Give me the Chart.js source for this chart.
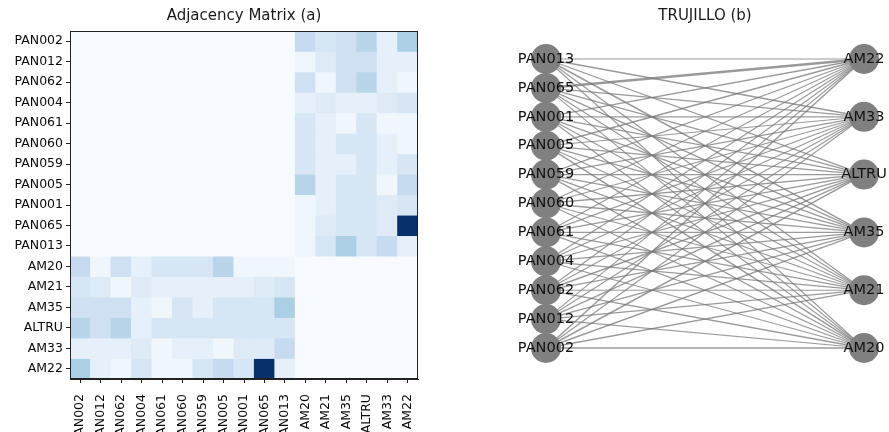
<!DOCTYPE html>
<html><head><meta charset="utf-8">
<script src="https://cdn.jsdelivr.net/npm/chart.js@4.4.1/dist/chart.umd.min.js"></script>
<style>
html,body{margin:0;padding:0;width:889px;height:432px;overflow:hidden;background:#fff;}
#c1{position:absolute;left:0;top:0;}
#c2{position:absolute;left:460px;top:0;}
</style></head><body>
<canvas id="c1" width="430" height="432"></canvas>
<canvas id="c2" width="429" height="432"></canvas>
<script>
// ---- data ----
const panNodes = ['PAN002','PAN012','PAN062','PAN004','PAN061','PAN060','PAN059','PAN005','PAN001','PAN065','PAN013'];
const amNodes = ['AM20','AM21','AM35','ALTRU','AM33','AM22'];
// edge weights: rows follow panNodes, columns follow amNodes
const weights = [
  [6, 4, 5, 7, 2, 8],   // PAN002
  [1, 3, 5, 5, 2, 2],   // PAN012
  [5, 1, 5, 7, 2, 1],   // PAN062
  [2, 3, 2, 2, 3, 4],   // PAN004
  [4, 2, 1, 4, 1, 1],   // PAN061
  [4, 2, 4, 4, 2, 1],   // PAN060
  [4, 2, 2, 4, 2, 4],   // PAN059
  [7, 2, 4, 4, 1, 6],   // PAN005
  [1, 2, 4, 4, 3, 4],   // PAN001
  [1, 3, 4, 4, 3, 24],  // PAN065
  [1, 4, 8, 4, 6, 2]    // PAN013
];
const titleA = 'Adjacency Matrix (a)';
const titleB = 'TRUJILLO (b)';

// ---- helpers ----
const FONT = "'DejaVu Sans', sans-serif";
const bluesStops = ['#f7fbff','#deebf7','#c6dbef','#9ecae1','#6baed6','#4292c6','#2171b5','#08519c','#08306b'];
function hex2rgb(h){return [parseInt(h.substr(1,2),16),parseInt(h.substr(3,2),16),parseInt(h.substr(5,2),16)];}
function blues(t){
  t = Math.max(0, Math.min(1, t));
  const p = t * (bluesStops.length - 1);
  const i = Math.min(Math.floor(p), bluesStops.length - 2);
  const f = p - i;
  const a = hex2rgb(bluesStops[i]), b = hex2rgb(bluesStops[i+1]);
  return 'rgb(' + a.map((v,k)=>Math.round(v + (b[k]-v)*f)).join(',') + ')';
}
const allNodes = panNodes.concat(amNodes);
const N = allNodes.length, P = panNodes.length;
function cellValue(r, c){
  if (r < P && c >= P) return weights[r][c-P];
  if (r >= P && c < P) return weights[c][r-P];
  return 0;
}
const vmax = Math.max(...weights.flat());

// ---- heatmap ----
const frame = {
  id: 'frame',
  afterDraw(chart){
    const {ctx, chartArea:a} = chart;
    ctx.save(); ctx.strokeStyle = '#222'; ctx.lineWidth = 1;
    ctx.strokeRect(Math.round(a.left)+0.5, Math.round(a.top)+0.5, Math.round(a.width)-1, Math.round(a.height)-1);
    ctx.restore();
  }
};
const heatDatasets = allNodes.map((rowLab, r) => ({
  label: rowLab,
  data: allNodes.map(() => 1),
  backgroundColor: allNodes.map((_, c) => blues(cellValue(r, c) / vmax)),
  borderWidth: 0,
  barPercentage: 1,
  categoryPercentage: 1,
  stack: 'm'
}));
new Chart(document.getElementById('c1'), {
  type: 'bar',
  data: { labels: allNodes, datasets: heatDatasets },
  options: {
    responsive: false, animation: false,
    layout: { autoPadding: false, padding: { left: 0, right: 12, top: 0, bottom: 0 } },
    plugins: {
      legend: { display: false }, tooltip: { enabled: false },
      title: { display: true, text: titleA, fullSize: false, color: '#1a1a1a',
               font: { family: FONT, size: 15, weight: 'normal' }, padding: { top: 7, bottom: 6 } }
    },
    scales: {
      x: {
        type: 'category', stacked: true, offset: true,
        ticks: { minRotation: 90, maxRotation: 90, autoSkip: false, padding: 11, color: '#0a0a0a',
                 font: { family: FONT, size: 12.5 } },
        grid: { offset: false, drawOnChartArea: false, drawTicks: true, tickLength: 4, color: '#222' },
        border: { display: true, color: '#222' },
        afterFit: s => { s.height = 53; s.paddingLeft = 0; s.paddingRight = 0; }
      },
      y: {
        type: 'linear', stacked: true, reverse: true, min: 0, max: N,
        afterBuildTicks: s => { s.ticks = allNodes.map((_, i) => ({ value: i + 0.5 })); },
        ticks: { autoSkip: false, padding: 3, color: '#0a0a0a', font: { family: FONT, size: 12.5 },
                 callback: v => allNodes[Math.floor(v)] },
        grid: { drawOnChartArea: false, drawTicks: true, tickLength: 4, color: '#222' },
        border: { display: true, color: '#222' },
        afterFit: s => { s.width = 70; s.paddingTop = 0; s.paddingBottom = 0; }
      }
    }
  },
  plugins: [frame]
});

// ---- bipartite graph ----
const edgeDatasets = [];
panNodes.forEach((p, i) => {
  amNodes.forEach((a, j) => {
    const w = weights[i][j];
    edgeDatasets.push({
      label: p + '-' + a,
      data: [{ x: 0, y: i }, { x: 1, y: 2 * j }],
      showLine: true, pointRadius: 0, pointHoverRadius: 0,
      borderColor: 'rgba(120,120,120,0.75)',
      borderWidth: 1.05 + 1.5 * w / vmax,
      clip: false,
      order: 1
    });
  });
});
const nodeData = panNodes.map((n, i) => ({ x: 0, y: i, name: n }))
  .concat(amNodes.map((n, j) => ({ x: 1, y: 2 * j, name: n })));
const nodeDataset = {
  label: 'nodes', data: nodeData, pointRadius: 15, pointHoverRadius: 15,
  backgroundColor: '#808080', borderWidth: 0, clip: false, order: 0
};
const nodeLabels = {
  id: 'nodeLabels',
  afterDatasetsDraw(chart){
    const meta = chart.getDatasetMeta(0);
    const ctx = chart.ctx;
    ctx.save();
    ctx.font = '14.5px ' + FONT;
    ctx.fillStyle = '#111';
    ctx.textAlign = 'center'; ctx.textBaseline = 'middle';
    meta.data.forEach((el, k) => ctx.fillText(nodeData[k].name, el.x, el.y));
    ctx.restore();
  }
};
new Chart(document.getElementById('c2'), {
  type: 'scatter',
  data: { datasets: [nodeDataset].concat(edgeDatasets) },
  options: {
    responsive: false, animation: false,
    layout: { autoPadding: false, padding: { left: 61, right: 0, top: 0, bottom: 53 } },
    plugins: {
      legend: { display: false }, tooltip: { enabled: false },
      title: { display: true, text: titleB, fullSize: false, color: '#1a1a1a',
               font: { family: FONT, size: 15, weight: 'normal' }, padding: { top: 7, bottom: 6 } }
    },
    scales: {
      x: { type: 'linear', min: -0.0786, max: 1.0786, display: false },
      y: { type: 'linear', min: -1.073, max: 10.969, display: false }
    }
  },
  plugins: [nodeLabels]
});
</script>
</body></html>
